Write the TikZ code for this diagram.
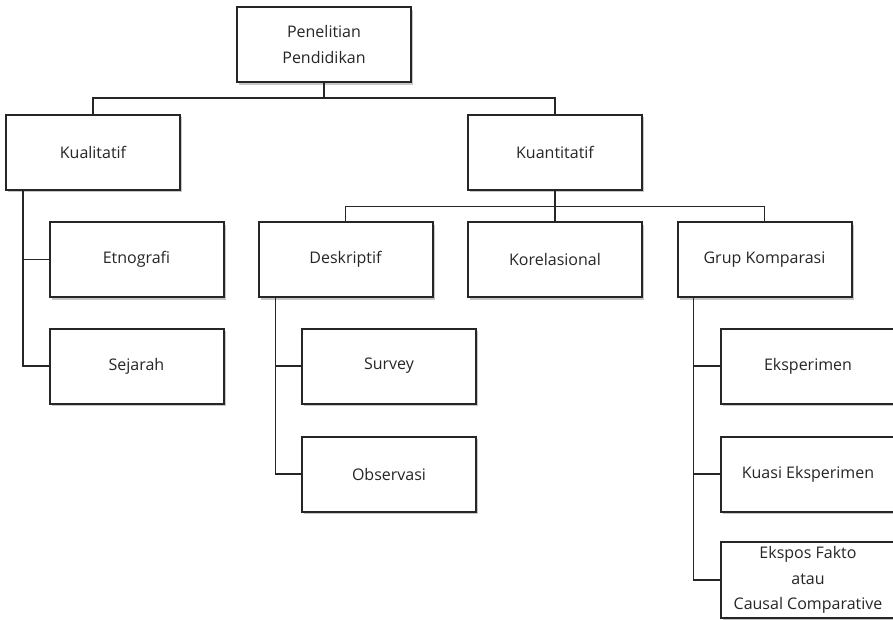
\documentclass[tikz,border=0pt]{standalone}
\usepackage{fontspec}
\setmainfont{Open Sans}
\usetikzlibrary{shadows,calc}
\begin{document}
\begin{tikzpicture}[x=1pt,y=-1pt,
  box/.style={draw=black!85, line width=2pt, fill=white, minimum width=174pt, minimum height=75pt,
    inner sep=0pt, align=center, text=black!85,
    font=\fontsize{16}{25.5}\selectfont,
    drop shadow={shadow xshift=2pt, shadow yshift=-2.5pt, opacity=0.22, fill=black}},
  conn/.style={draw=black!85, line width=1.7pt}]
\useasboundingbox (0,0) rectangle (893,619);
\node[box] (top) at (324,44.5) {Penelitian\\Pendidikan};
\node[box] (kual) at (93,152) {Kualitatif};
\node[box] (kuant) at (555,152) {Kuantitatif};
\node[box] (etno) at (136.5,259.5) {Etnografi};
\node[box] (sej) at (136.5,366) {Sejarah};
\node[box] (desk) at (345.5,259.5) {Deskriptif};
\node[box] (kor) at (555,259.5) {Korelasional};
\node[box] (grup) at (764.5,259.5) {Grup Komparasi};
\node[box] (surv) at (389,366) {Survey};
\node[box] (obs) at (389,474) {Observasi};
\node[box] (eks) at (808,366) {Eksperimen};
\node[box] (kuasi) at (808,474) {Kuasi Eksperimen};
\node[box, minimum height=76pt] (ekspos) at (808,580) {Ekspos Fakto\\atau\\Causal Comparative};
\coordinate (j1) at ($(top.south)+(0,15)$);
\coordinate (j2) at ($(kuant.south)+(0,16)$);
\coordinate (t1) at ($(kual.south west)+(18,0)$);
\coordinate (t2) at ($(desk.south west)+(18,0)$);
\coordinate (t3) at ($(grup.south west)+(17,0)$);
\draw[conn] (top.south) -- (j1);
\draw[conn] (kual.north) |- (j1) -| (kuant.north);
\draw[conn] (kuant.south) -- (kor.north);
\draw[conn] (desk.north) |- (j2) -| (grup.north);
\draw[conn] (t1) |- (etno.west);
\draw[conn] (t1) |- (sej.west);
\draw[conn] (t2) |- (surv.west);
\draw[conn] (t2) |- (obs.west);
\draw[conn] (t3) |- (eks.west);
\draw[conn] (t3) |- (kuasi.west);
\draw[conn] (t3) |- (ekspos.west);
\end{tikzpicture}
\end{document}
